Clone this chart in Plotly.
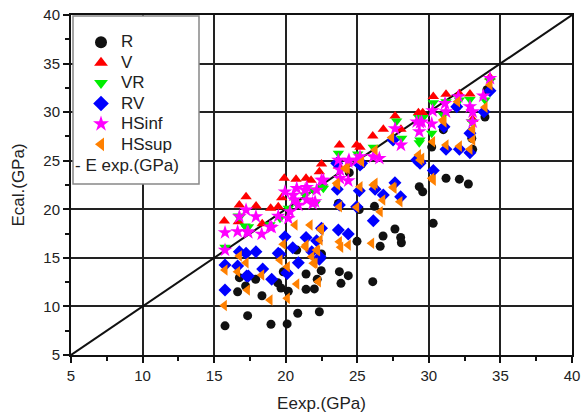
import plotly.graph_objects as go

# ---- data (GPa) ----
R_x = [15.76, 17.34, 18.97, 20.10, 20.84, 22.35, 16.64, 16.76, 17.20, 17.90, 18.34, 19.44, 19.67, 20.18,
       19.83, 20.77, 21.42, 21.42, 22.00, 22.20, 22.48, 22.50, 23.75, 23.86, 24.37, 24.98, 26.08, 26.60,
       26.80, 27.63, 28.03, 28.08, 30.30, 29.33, 29.57, 31.20, 32.13, 32.76, 23.68, 25.14, 26.20, 25.30,
       24.44, 30.20, 31.01, 31.95, 33.92, 33.06, 33.00, 34.06]
R_y = [8.0, 9.05, 8.16, 8.2, 9.3, 9.45, 11.5, 12.96, 12.1, 12.8, 11.1, 12.44, 11.9, 11.56,
       13.57, 15.8, 13.34, 11.76, 11.8, 12.8, 13.68, 15.4, 13.58, 12.38, 13.17, 16.7, 12.55, 16.2,
       17.25, 17.97, 17.1, 16.56, 18.56, 22.33, 21.8, 23.2, 23.1, 22.6, 20.6, 19.98, 20.3, 24.66,
       23.77, 26.4, 28.2, 30.56, 29.5, 26.17, 27.3, 32.3]

V_x = [15.71, 16.69, 16.76, 17.23, 17.93, 18.36, 18.95, 19.48, 19.72, 19.90, 20.72, 21.42, 21.77, 22.35,
       22.50, 23.75, 24.96, 23.68, 25.19, 26.08, 26.82, 27.64, 28.05, 29.27, 29.57, 30.31, 31.20, 32.13,
       32.87, 33.06, 34.27]
V_y = [18.8, 18.72, 20.44, 21.3, 20.34, 18.5, 20.1, 20.27, 21.2, 23.2, 23.09, 23.19, 23.0, 23.87,
       24.66, 26.62, 26.62, 24.46, 26.38, 27.54, 28.23, 29.6, 28.23, 29.94, 29.94, 31.6, 31.83, 31.9,
       31.87, 29.26, 33.6]

VR_x = [15.76, 16.69, 17.27, 16.80, 17.40, 18.90, 19.60, 20.18, 20.72, 21.35, 21.93, 22.58, 22.05, 17.16,
        23.68, 25.03, 22.63, 26.12, 27.75, 28.10, 29.30, 29.60, 30.31, 31.20, 29.33, 30.20, 29.38, 32.13,
        31.01, 32.87, 32.99, 33.92, 34.27]
VR_y = [16.08, 19.3, 18.04, 19.24, 18.2, 18.4, 19.07, 20.1, 20.68, 21.47, 21.98, 22.33, 20.6, 18.28,
        25.76, 25.7, 22.16, 26.38, 29.09, 27.3, 29.46, 29.46, 30.97, 31.07, 26.86, 27.82, 27.13, 31.25,
        29.7, 31.3, 29.0, 31.25, 33.24]

RV_x = [15.76, 16.64, 15.76, 16.76, 17.27, 17.23, 17.92, 17.39, 18.39, 19.02, 19.60, 19.95, 20.11, 20.49,
        20.88, 21.42, 21.82, 22.16, 22.35, 22.50, 23.68, 24.37, 22.40, 19.48, 20.07, 23.75, 24.96, 23.60,
        25.14, 26.24, 27.63, 26.82, 28.03, 26.12, 30.31, 29.38, 31.20, 32.13, 32.87, 32.87, 34.27, 33.85,
        31.06, 31.95, 27.50, 29.15, 29.38, 25.30, 23.56, 25.19]
RV_y = [14.27, 14.16, 11.69, 15.64, 13.13, 15.47, 15.64, 13.13, 13.85, 12.8, 15.36, 17.18, 13.4, 16.05,
        14.5, 17.1, 15.64, 16.77, 14.85, 18.04, 17.87, 17.45, 15.1, 15.47, 13.47, 20.44, 20.27, 22.06,
        21.9, 22.06, 22.74, 21.47, 21.3, 18.83, 23.98, 24.9, 26.17, 26.17, 25.83, 27.82, 32.2, 30.04,
        28.5, 30.56, 27.13, 25.07, 24.73, 24.73, 24.73, 24.56]

HSinf_x = [15.76, 16.64, 15.76, 17.23, 17.32, 16.76, 17.92, 18.90, 19.95, 19.48, 20.18, 20.30, 20.88, 20.53,
           20.77, 21.47, 21.88, 21.47, 22.16, 22.50, 17.39, 19.02, 18.32, 20.60, 21.35, 22.05, 23.68, 24.42,
           24.37, 23.79, 24.96, 24.37, 25.19, 26.12, 26.54, 27.64, 28.05, 29.38, 29.33, 30.26, 31.13, 23.79,
           22.63, 29.15, 29.50, 30.20, 32.06, 32.87, 33.06, 33.06, 34.27, 33.80, 31.20]
HSinf_y = [17.6, 17.7, 15.8, 19.93, 17.7, 19.24, 19.24, 18.2, 21.8, 19.3, 19.07, 19.75, 20.44, 21.47,
           22.16, 20.96, 20.6, 22.26, 21.98, 23.0, 17.6, 18.14, 17.45, 20.96, 21.98, 20.78, 25.07, 25.07,
           22.94, 24.05, 25.07, 24.9, 25.41, 25.41, 25.25, 28.3, 26.62, 28.92, 28.0, 30.15, 30.9, 23.19,
           23.0, 29.0, 29.0, 28.8, 31.6, 30.56, 30.04, 29.0, 33.48, 31.67, 30.04]

HSsup_x = [15.76, 15.71, 16.64, 16.76, 17.23, 17.32, 18.32, 18.90, 19.83, 19.60, 20.11, 20.11, 20.65, 20.77,
           21.70, 21.42, 21.82, 22.05, 22.16, 22.40, 22.50, 22.28, 22.47, 21.35, 22.23, 21.93, 23.75, 24.37,
           23.75, 24.96, 23.63, 25.19, 24.14, 25.30, 23.56, 26.24, 27.57, 26.78, 27.98, 26.60, 30.31, 29.50,
           23.84, 26.00, 26.12, 27.49, 30.20, 31.20, 32.13, 32.87, 33.06, 33.06, 33.92, 34.27, 32.00, 31.06,
           24.30, 26.24, 27.40, 29.27, 29.38, 30.26, 30.97]
HSsup_y = [13.75, 10.1, 13.58, 15.19, 14.5, 11.69, 13.24, 10.66, 16.4, 14.78, 14.09, 10.83, 18.38, 12.3,
           18.38, 16.32, 15.12, 14.44, 15.8, 16.84, 18.04, 12.55, 17.87, 16.15, 15.73, 14.44, 16.66, 16.32,
           20.27, 20.2, 22.5, 22.33, 24.2, 24.9, 22.67, 22.67, 22.16, 20.96, 20.78, 19.75, 23.0, 25.25,
           16.09, 16.5, 22.5, 22.26, 23.19, 26.62, 26.5, 26.17, 27.13, 28.23, 30.5, 32.8, 31.08, 29.0,
           24.2, 26.1, 27.4, 25.6, 25.07, 26.96, 29.2]

line_x = [5, 40]
line_y = [5, 40]

series = [
    ("R", R_x, R_y, "circle", "#111111", 9),
    ("V", V_x, V_y, "triangle-up", "#ff0000", 10),
    ("VR", VR_x, VR_y, "triangle-down", "#00ee00", 10),
    ("RV", RV_x, RV_y, "diamond", "#0000ff", 10),
    ("HSinf", HSinf_x, HSinf_y, "star", "#ff00ff", 11),
    ("HSsup", HSsup_x, HSsup_y, "triangle-left", "#ff8000", 10),
]

FONT = "Arial, Liberation Sans, sans-serif"
fig = go.Figure()

fig.add_trace(go.Scatter(x=line_x, y=line_y, mode="lines", line=dict(color="#111111", width=2),
                         name="E exp.(GPa)", showlegend=False))

for name, xs, ys, sym, col, sz in series:
    fig.add_trace(go.Scatter(x=xs, y=ys, mode="markers",
                             name='<span style="font-size:17px">%s</span>' % name,
                             marker=dict(symbol=sym, color=col, size=sz, line=dict(width=0))))

axis_common = dict(range=[5, 40], dtick=5, tick0=5, showgrid=True, gridcolor="#222222", gridwidth=2,
                   showline=True, linecolor="#111111", linewidth=2, mirror=True,
                   ticks="outside", ticklen=6, tickwidth=2, tickcolor="#111111",
                   minor=dict(dtick=2.5, ticks="outside", ticklen=4, tickwidth=1.5, tickcolor="#111111",
                              showgrid=False),
                   zeroline=False, automargin=False, ticklabeloverflow="allow",
                   tickfont=dict(family=FONT, size=15, color="#222222"))

fig.update_xaxes(**axis_common, title=dict(text="Eexp.(GPa)", font=dict(family=FONT, size=17, color="#222222"),
                                           standoff=14))
fig.update_yaxes(**axis_common, title=dict(text="Ecal.(GPa)", font=dict(family=FONT, size=17, color="#222222"),
                                           standoff=14))

# legend frame (pixel -> paper conversion; plot area spans page pixels x 71..572, y 15..355)
def px(xp):
    return (xp - 71) / 501.0

def py(yp):
    return (355 - yp) / 340.0

fig.add_shape(type="rect", xref="paper", yref="paper", x0=px(73), x1=px(199), y0=py(184), y1=py(16),
              fillcolor="white", line=dict(color="#888888", width=1.5), layer="above")

fig.add_annotation(xref="paper", yref="paper", x=px(73), y=py(165), text="- E exp.(GPa)", showarrow=False,
                   xanchor="left", yanchor="middle", font=dict(family=FONT, size=17, color="#222222"))

fig.update_layout(
    width=582, height=419,
    margin=dict(l=71, r=10, t=15, b=64),
    paper_bgcolor="white", plot_bgcolor="white",
    showlegend=True,
    legend=dict(x=px(81), y=py(27), xanchor="left", yanchor="top", bgcolor="rgba(0,0,0,0)",
                borderwidth=0, font=dict(family=FONT, size=13.4, color="#222222"), itemsizing="constant"),
    font=dict(family=FONT),
)

# remove the default page body margin so the 582x419 figure fills the window exactly
fig.write_html("out.html", config={"displayModeBar": False},
               post_script="document.body.style.margin='0px';")
